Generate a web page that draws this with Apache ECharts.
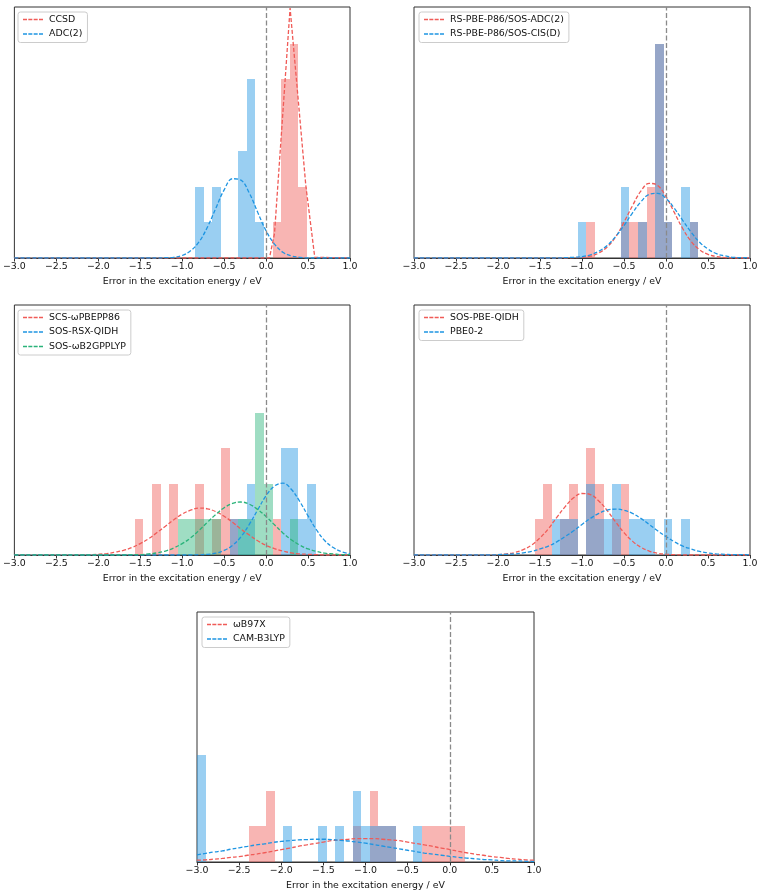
<!DOCTYPE html>
<html>
<head>
<meta charset="utf-8">
<script src="https://cdn.jsdelivr.net/npm/echarts@6/dist/echarts.min.js"></script>
<style>
html,body{margin:0;padding:0;background:#ffffff;}
#chart{width:766px;height:895px;}
</style>
</head>
<body>
<div id="chart"></div>
<script>
// ---------------- DATA ----------------
const X_MIN = -3.0, X_MAX = 1.0, X_INTERVAL = 0.5, Y_MAX = 7.03;
const X_LABEL = 'Error in the excitation energy / eV';

// shared histogram bin edges (39 bins)
const BIN_EDGES = [-3.0,-2.8974,-2.7949,-2.6923,-2.5897,-2.4872,-2.3846,-2.2821,-2.1795,-2.0769,
  -1.9744,-1.8718,-1.7692,-1.6667,-1.5641,-1.4615,-1.359,-1.2564,-1.1538,-1.0513,
  -0.9487,-0.8462,-0.7436,-0.641,-0.5385,-0.4359,-0.3333,-0.2308,-0.1282,-0.0256,
  0.0769,0.1795,0.2821,0.3846,0.4872,0.5897,0.6923,0.7949,0.8974,1.0];

// x positions of the fitted-curve samples
const CURVE_X = [-3.0,-2.9,-2.8,-2.7,-2.6,-2.5,-2.4,-2.3,-2.2,-2.1,
  -2.0,-1.9,-1.8,-1.7,-1.6,-1.5,-1.4,-1.3,-1.2,-1.1,
  -1.0,-0.9,-0.8,-0.7,-0.6,-0.5,-0.4,-0.3,-0.2,-0.1,
  0.0,0.1,0.2,0.3,0.4,0.5,0.6,0.7,0.8,0.9,1.0];

// Panel 1
const P1_CCSD_HIST = [0,0,0,0,0, 0,0,0,0,0, 0,0,0,0,0, 0,0,0,0,0, 0,0,0,0,0, 0,0,0,0,0, 1,5,6,2,0, 0,0,0,0];
const P1_ADC2_HIST = [0,0,0,0,0, 0,0,0,0,0, 0,0,0,0,0, 0,0,0,0,0, 0,2,1,2,0, 0,3,5,1,0, 0,0,0,0,0, 0,0,0,0];
const P1_CCSD_CURVE_X = [-3.0, 0.04, 0.1, 0.286, 0.473, 0.58, 1.0];
const P1_CCSD_CURVE_Y = [0, 0, 0.68, 7.0, 2.04, 0.02, 0];
const P1_ADC2_CURVE = [0,0,0,0,0,0,0,0,0,0,
  0,0,0,0,0,0,0,0,0.01,0.02,
  0.07,0.20,0.45,0.86,1.39,1.91,2.22,2.18,1.82,1.28,
  0.76,0.39,0.16,0.06,0.02,0,0,0,0,0,
  0];

// Panel 2
const P2_ADC_HIST = [0,0,0,0,0, 0,0,0,0,0, 0,0,0,0,0, 0,0,0,0,0, 1,0,0,0,1, 1,1,2,6,1, 0,0,1,0,0, 0,0,0,0];
const P2_CISD_HIST = [0,0,0,0,0, 0,0,0,0,0, 0,0,0,0,0, 0,0,0,0,1, 0,0,0,0,2, 0,1,0,6,1, 0,2,1,0,0, 0,0,0,0];
const P2_ADC_CURVE = [0,0,0,0,0,0,0,0,0,0,
  0,0,0,0,0,0,0,0,0,0.01,
  0.02,0.05,0.14,0.31,0.59,1.00,1.46,1.87,2.09,2.03,
  1.72,1.27,0.82,0.46,0.23,0.10,0.04,0.01,0,0,
  0];
const P2_CISD_CURVE = [0,0,0,0,0,0,0,0,0,0,
  0,0,0,0,0,0,0,0,0.01,0.02,
  0.04,0.09,0.19,0.35,0.60,0.91,1.26,1.57,1.78,1.81,
  1.67,1.39,1.05,0.72,0.44,0.25,0.12,0.06,0.02,0.01,
  0];

// Panel 3
const P3_SCS_HIST = [0,0,0,0,0, 0,0,0,0,0, 0,0,0,0,1, 0,2,0,2,0, 0,2,0,1,3, 1,0,0,0,0, 1,0,0,0,0, 0,0,0,0];
const P3_RSX_HIST = [0,0,0,0,0, 0,0,0,0,0, 0,0,0,0,0, 0,0,0,0,0, 0,0,0,0,0, 1,1,2,0,0, 0,3,3,1,2, 0,0,0,0];
const P3_B2G_HIST = [0,0,0,0,0, 0,0,0,0,0, 0,0,0,0,0, 0,0,0,0,1, 1,1,1,1,0, 0,1,1,4,2, 0,0,1,0,0, 0,0,0,0];
const P3_SCS_CURVE = [0,0,0,0,0,0,0,0,0.01,0.01,
  0.02,0.04,0.08,0.13,0.21,0.32,0.46,0.63,0.81,0.99,
  1.15,1.26,1.32,1.30,1.22,1.09,0.92,0.73,0.56,0.40,
  0.27,0.18,0.11,0.06,0.03,0.02,0.01,0,0,0,
  0];
const P3_RSX_CURVE = [0,0,0,0,0,0,0,0,0,0,
  0,0,0,0,0,0,0,0,0,0,
  0,0,0.01,0.02,0.05,0.13,0.27,0.51,0.86,1.27,
  1.67,1.94,2.02,1.85,1.51,1.10,0.71,0.40,0.21,0.09,
  0.04];
const P3_B2G_CURVE = [0,0,0,0,0,0,0,0,0,0,
  0,0,0,0,0.01,0.01,0.03,0.06,0.11,0.20,
  0.32,0.48,0.69,0.92,1.14,1.33,1.45,1.49,1.43,1.28,
  1.08,0.85,0.62,0.43,0.28,0.17,0.10,0.05,0.03,0.01,
  0.01];

// Panel 4
const P4_QIDH_HIST = [0,0,0,0,0, 0,0,0,0,0, 0,0,0,0,1, 2,0,1,2,0, 3,2,0,1,2, 0,0,0,0,0, 0,0,0,0,0, 0,0,0,0];
const P4_PBE02_HIST = [0,0,0,0,0, 0,0,0,0,0, 0,0,0,0,0, 0,1,1,1,0, 2,1,1,2,0, 1,1,1,0,1, 0,1,0,0,0, 0,0,0,0];
const P4_QIDH_CURVE = [0,0,0,0,0,0,0,0,0,0,
  0.01,0.03,0.07,0.15,0.28,0.48,0.74,1.06,1.36,1.61,
  1.73,1.70,1.52,1.25,0.93,0.63,0.39,0.22,0.11,0.05,
  0.02,0.01,0,0,0,0,0,0,0,0,
  0];
const P4_PBE02_CURVE = [0,0,0,0,0,0,0,0,0,0,
  0.01,0.02,0.03,0.06,0.10,0.17,0.25,0.37,0.52,0.68,
  0.86,1.03,1.17,1.26,1.29,1.26,1.17,1.03,0.86,0.68,
  0.52,0.37,0.25,0.17,0.10,0.06,0.03,0.02,0.01,0.01,
  0];

// Panel 5
const P5_WB97X_HIST = [0,0,0,0,0, 0,1,1,2,0, 0,0,0,0,0, 0,0,0,1,0, 2,1,1,0,0, 0,1,1,1,1, 1,0,0,0,0, 0,0,0,0];
const P5_CAM_HIST = [3,0,0,0,0, 0,0,0,0,0, 1,0,0,0,1, 0,1,0,2,1, 1,1,1,0,0, 1,0,0,0,0, 0,0,0,0,0, 0,0,0,0];
const P5_WB97X_CURVE = [0.05,0.06,0.08,0.10,0.13,0.15,0.19,0.22,0.26,0.30,
  0.35,0.39,0.44,0.48,0.52,0.56,0.60,0.62,0.64,0.66,
  0.66,0.66,0.64,0.62,0.60,0.56,0.52,0.48,0.44,0.39,
  0.35,0.30,0.26,0.22,0.19,0.15,0.13,0.10,0.08,0.06,
  0.05];
const P5_CAM_CURVE = [0.20,0.24,0.28,0.31,0.36,0.40,0.44,0.48,0.51,0.55,
  0.58,0.60,0.62,0.63,0.64,0.64,0.63,0.61,0.59,0.56,
  0.53,0.49,0.45,0.41,0.37,0.33,0.29,0.25,0.22,0.19,
  0.16,0.13,0.11,0.09,0.07,0.06,0.04,0.03,0.03,0.02,
  0.01];

// ---------------- STYLE ----------------
const RED = '#f05b57', BLUE = '#1e95e2', GREEN = '#2ab37a';
const FILL = {
  red: 'rgba(240,91,87,0.45)',
  blue: 'rgba(30,149,226,0.45)',
  green: 'rgba(42,179,122,0.45)'
};
const FONT = 'DejaVu Sans';
const DASH_ICON = 'path://M0,0H4V1.4H0Z M5.33,0H9.33V1.4H5.33Z M10.67,0H14.67V1.4H10.67Z M16,0H20V1.4H16Z';

const PANELS = [
  { grid: {left: 14, top: 7, width: 336, height: 251}, legend: {left: 18, top: 12},
    hists: [{data: P1_CCSD_HIST, fill: FILL.red}, {data: P1_ADC2_HIST, fill: FILL.blue}],
    curves: [{name: 'CCSD', x: P1_CCSD_CURVE_X, y: P1_CCSD_CURVE_Y, color: RED, smooth: false},
             {name: 'ADC(2)', x: CURVE_X, y: P1_ADC2_CURVE, color: BLUE, smooth: 0.4}] },
  { grid: {left: 414, top: 7, width: 336, height: 251}, legend: {left: 419, top: 12},
    hists: [{data: P2_ADC_HIST, fill: FILL.red}, {data: P2_CISD_HIST, fill: FILL.blue}],
    curves: [{name: 'RS-PBE-P86/SOS-ADC(2)', x: CURVE_X, y: P2_ADC_CURVE, color: RED, smooth: 0.4},
             {name: 'RS-PBE-P86/SOS-CIS(D)', x: CURVE_X, y: P2_CISD_CURVE, color: BLUE, smooth: 0.4}] },
  { grid: {left: 14, top: 305, width: 336, height: 250}, legend: {left: 18, top: 310},
    hists: [{data: P3_SCS_HIST, fill: FILL.red}, {data: P3_RSX_HIST, fill: FILL.blue}, {data: P3_B2G_HIST, fill: FILL.green}],
    curves: [{name: 'SCS-\u03c9PBEPP86', x: CURVE_X, y: P3_SCS_CURVE, color: RED, smooth: 0.4},
             {name: 'SOS-RSX-QIDH', x: CURVE_X, y: P3_RSX_CURVE, color: BLUE, smooth: 0.4},
             {name: 'SOS-\u03c9B2GPPLYP', x: CURVE_X, y: P3_B2G_CURVE, color: GREEN, smooth: 0.4}] },
  { grid: {left: 414, top: 305, width: 336, height: 250}, legend: {left: 419, top: 310},
    hists: [{data: P4_QIDH_HIST, fill: FILL.red}, {data: P4_PBE02_HIST, fill: FILL.blue}],
    curves: [{name: 'SOS-PBE-QIDH', x: CURVE_X, y: P4_QIDH_CURVE, color: RED, smooth: 0.4},
             {name: 'PBE0-2', x: CURVE_X, y: P4_PBE02_CURVE, color: BLUE, smooth: 0.4}] },
  { grid: {left: 197, top: 612, width: 337, height: 250}, legend: {left: 202, top: 617},
    hists: [{data: P5_WB97X_HIST, fill: FILL.red}, {data: P5_CAM_HIST, fill: FILL.blue}],
    curves: [{name: '\u03c9B97X', x: CURVE_X, y: P5_WB97X_CURVE, color: RED, smooth: 0.4},
             {name: 'CAM-B3LYP', x: CURVE_X, y: P5_CAM_CURVE, color: BLUE, smooth: 0.4}] }
];

function histRenderer(fill) {
  return function (params, api) {
    const p0 = api.coord([api.value(0), api.value(2)]);
    const p1 = api.coord([api.value(1), 0]);
    const l = Math.round(p0[0]), r = Math.round(p1[0]);
    const t = Math.round(p0[1]), b = Math.round(p1[1]);
    return { type: 'rect', shape: {x: l, y: t, width: r - l, height: b - t}, style: {fill: fill} };
  };
}

function fmtTick(v) {
  return (v < 0 ? '\u2212' : '') + Math.abs(v).toFixed(1);
}

const grids = [], xAxes = [], yAxes = [], legends = [], series = [];
PANELS.forEach((p, i) => {
  grids.push(Object.assign({show: true, borderColor: '#333', borderWidth: 1, backgroundColor: 'transparent', containLabel: false}, p.grid));
  xAxes.push({
    type: 'value', gridIndex: i, min: X_MIN, max: X_MAX, interval: X_INTERVAL,
    name: X_LABEL, nameLocation: 'middle', nameGap: 19.5,
    nameTextStyle: {fontFamily: FONT, fontSize: 9.4, color: '#111'},
    axisLine: {show: true, lineStyle: {color: '#333', width: 1}},
    axisTick: {show: true, length: 3.5, lineStyle: {color: '#333', width: 1}},
    axisLabel: {show: true, margin: 4.5, fontFamily: FONT, fontSize: 9.4, color: '#111', formatter: fmtTick, showMinLabel: true, showMaxLabel: true},
    splitLine: {show: false}
  });
  yAxes.push({
    type: 'value', gridIndex: i, min: 0, max: Y_MAX,
    axisLine: {show: false}, axisTick: {show: false}, axisLabel: {show: false}, splitLine: {show: false}
  });
  legends.push({
    orient: 'vertical', left: p.legend.left, top: p.legend.top,
    data: p.curves.map(c => ({name: c.name, icon: DASH_ICON})),
    itemWidth: 20, itemHeight: 1.4, itemGap: 5.5,
    padding: [3, 5, 4, 5],
    backgroundColor: 'rgba(255,255,255,0.8)', borderColor: '#cccccc', borderWidth: 1, borderRadius: 2.5,
    itemStyle: {borderWidth: 0},
    textStyle: {fontFamily: FONT, fontSize: 9.4, color: '#111', lineHeight: 9, padding: [0, 0, 0, 1]},
    selectedMode: false
  });
  p.hists.forEach(h => {
    series.push({
      type: 'custom', xAxisIndex: i, yAxisIndex: i, z: 2, silent: true, clip: true,
      renderItem: histRenderer(h.fill),
      encode: {x: [0, 1], y: 2},
      data: h.data.map((c, k) => [BIN_EDGES[k], BIN_EDGES[k + 1], c]).filter(d => d[2] > 0)
    });
  });
  p.curves.forEach((c, j) => {
    const s = {
      type: 'line', name: c.name, xAxisIndex: i, yAxisIndex: i, z: 3, silent: true, clip: true,
      data: c.x.map((v, k) => [v, c.y[k]]),
      showSymbol: false, symbol: 'none', smooth: c.smooth,
      color: c.color,
      itemStyle: {color: c.color},
      lineStyle: {color: c.color, width: 1.3, type: [4, 2]}
    };
    if (j === 0) {
      s.markLine = {
        silent: true, symbol: ['none', 'none'], label: {show: false}, animation: false,
        lineStyle: {color: '#8a8a8a', width: 1.3, type: [5, 2.5]},
        data: [{xAxis: 0}]
      };
    }
    series.push(s);
  });
});

const chart = echarts.init(document.getElementById('chart'), null, {renderer: 'canvas'});
chart.setOption({
  animation: false,
  backgroundColor: '#ffffff',
  grid: grids, xAxis: xAxes, yAxis: yAxes, legend: legends, series: series
});
</script>
</body>
</html>
